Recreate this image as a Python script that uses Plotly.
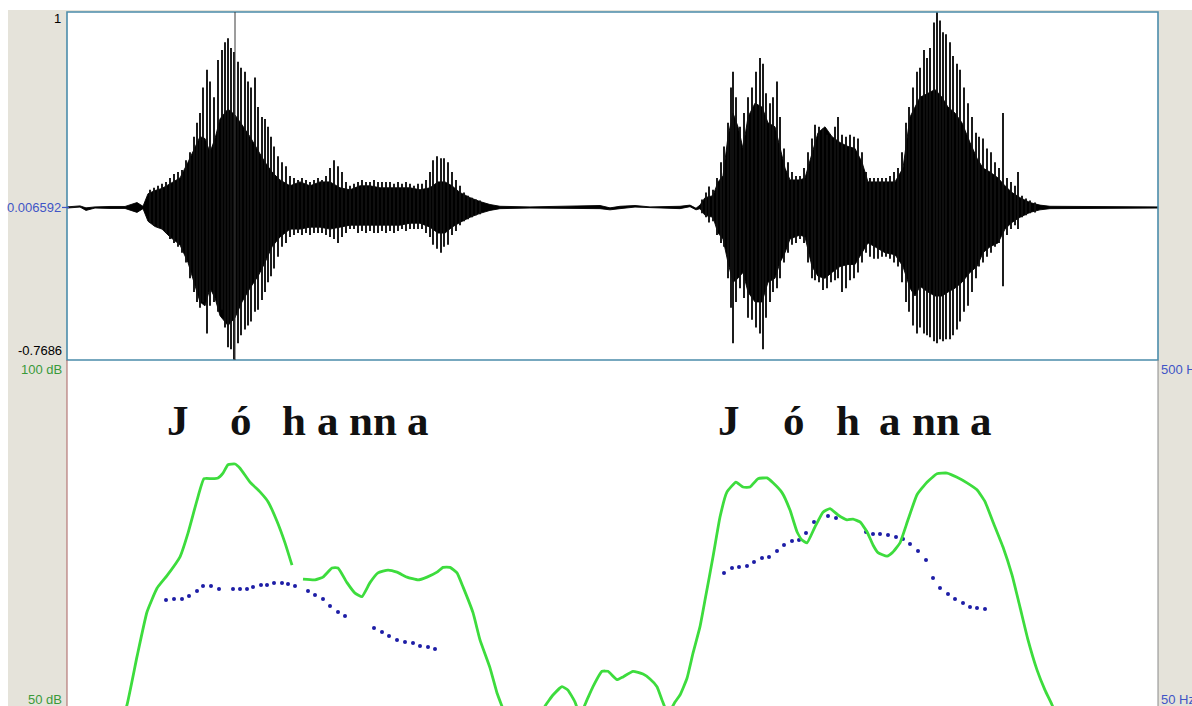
import plotly.graph_objects as go

# ---------------------------------------------------------------
# Data (time in ms)
# ---------------------------------------------------------------
DC_OFFSET = 0.006592
WAVE_MAX = 1.0
WAVE_MIN = -0.7686
DB_TOP, DB_BOT = 100, 50
HZ_TOP, HZ_BOT = 500, 50
DURATION_MS = 2182
CURSOR_MS = 336

# dense body of the waveform: upper / lower envelope (amplitude about the DC offset)
core_t = [0, 26, 38, 56, 86, 116, 140, 152, 162, 176,
          190, 206, 226, 242, 256, 266, 276, 286, 296, 306,
          322, 336, 350, 366, 382, 396, 410, 426, 446, 466,
          486, 506, 526, 546, 566, 586, 606, 626, 646, 666,
          686, 706, 726, 742, 756, 770, 786, 806, 826, 846,
          866, 926, 986, 1066, 1086, 1106, 1136, 1166, 1226, 1246,
          1258, 1266, 1276, 1292, 1302, 1312, 1322, 1332, 1342, 1352,
          1362, 1376, 1390, 1402, 1416, 1426, 1436, 1446, 1456, 1466,
          1476, 1490, 1502, 1516, 1530, 1546, 1562, 1576, 1590, 1602,
          1616, 1636, 1656, 1672, 1686, 1696, 1706, 1722, 1736, 1750,
          1762, 1776, 1790, 1806, 1820, 1832, 1846, 1862, 1876, 1890,
          1906, 1926, 1946, 1966, 2066, 2182]
core_hi = [0.003, 0.008, -0.002, 0.003, 0.005, 0.005, 0.025, 0.006, 0.07, 0.086,
           0.097, 0.12, 0.15, 0.23, 0.31, 0.36, 0.35, 0.28, 0.35, 0.45,
           0.50, 0.47, 0.42, 0.36, 0.29, 0.23, 0.18, 0.14, 0.11, 0.13,
           0.11, 0.13, 0.13, 0.10, 0.09, 0.11, 0.11, 0.10, 0.10, 0.10,
           0.10, 0.09, 0.10, 0.13, 0.13, 0.11, 0.076, 0.05, 0.03, 0.015,
           0.006, 0.003, 0.006, 0.01, -0.002, 0.006, 0.01, 0.003, 0.006, 0.012,
           -0.004, 0.012, 0.05, 0.06, 0.13, 0.16, 0.36, 0.48, 0.41, 0.30,
           0.46, 0.53, 0.51, 0.43, 0.41, 0.30, 0.20, 0.14, 0.14, 0.14,
           0.15, 0.28, 0.38, 0.41, 0.36, 0.33, 0.31, 0.30, 0.23, 0.13,
           0.13, 0.13, 0.13, 0.20, 0.46, 0.51, 0.56, 0.58, 0.60, 0.56,
           0.51, 0.48, 0.43, 0.33, 0.25, 0.20, 0.18, 0.15, 0.11, 0.076,
           0.05, 0.025, 0.012, 0.006, 0.004, 0.003]
core_lo = [0.003, -0.002, 0.015, 0.003, 0.005, 0.005, 0.025, 0.006, 0.07, 0.097,
           0.11, 0.15, 0.19, 0.28, 0.40, 0.48, 0.50, 0.41, 0.46, 0.55,
           0.60, 0.56, 0.48, 0.41, 0.35, 0.28, 0.20, 0.15, 0.11, 0.11,
           0.10, 0.10, 0.11, 0.10, 0.09, 0.09, 0.09, 0.09, 0.09, 0.09,
           0.08, 0.08, 0.10, 0.13, 0.13, 0.10, 0.076, 0.05, 0.03, 0.015,
           0.006, 0.003, 0.003, 0.006, 0.012, 0.006, -0.002, 0.003, 0.006, -0.004,
           0.012, 0.006, 0.04, 0.05, 0.13, 0.16, 0.28, 0.38, 0.36, 0.33,
           0.43, 0.48, 0.48, 0.38, 0.36, 0.28, 0.23, 0.16, 0.15, 0.14,
           0.15, 0.30, 0.35, 0.36, 0.33, 0.30, 0.29, 0.29, 0.23, 0.18,
           0.20, 0.23, 0.24, 0.30, 0.41, 0.45, 0.40, 0.43, 0.45, 0.45,
           0.43, 0.41, 0.38, 0.33, 0.30, 0.23, 0.20, 0.18, 0.11, 0.076,
           0.05, 0.025, 0.012, 0.006, 0.004, 0.003]

# individual glottal pulses: time, positive peak, negative peak
pulse_t = [166, 174, 182, 190, 198, 206, 214, 222, 230, 238,
           246, 254, 260, 266, 272, 280, 286, 294, 302, 310,
           316, 322, 328, 334, 342, 348, 356, 362, 368, 376,
           382, 390, 396, 402, 408, 414, 422, 430, 438, 446,
           454, 462, 470, 478, 486, 494, 502, 510, 518, 526,
           534, 542, 550, 558, 566, 574, 582, 590, 598, 606,
           614, 622, 630, 638, 646, 654, 662, 670, 678, 686,
           694, 702, 710, 718, 726, 732, 740, 748, 754, 762,
           770, 778, 786, 794, 802, 810, 818, 826,
           1270, 1278, 1284, 1292, 1300, 1308, 1314, 1322, 1328, 1332,
           1338, 1346, 1354, 1362, 1370, 1378, 1386, 1392, 1398, 1406,
           1412, 1420, 1426, 1434, 1442, 1450, 1458, 1466, 1474, 1482,
           1490, 1496, 1504, 1512, 1520, 1528, 1536, 1542, 1550, 1558,
           1566, 1574, 1582, 1590, 1598, 1606, 1614, 1622, 1630, 1638,
           1646, 1654, 1662, 1670, 1678, 1684, 1692, 1700, 1706, 1714,
           1720, 1726, 1734, 1740, 1746, 1752, 1758, 1766, 1772, 1780,
           1786, 1794, 1802, 1810, 1818, 1824, 1832, 1840, 1848, 1856,
           1864, 1872, 1880, 1888, 1896, 1902, 1910, 1918, 1926, 1936]
pulse_hi = [0.09, 0.10, 0.11, 0.12, 0.13, 0.15, 0.17, 0.18, 0.19, 0.24,
            0.28, 0.36, 0.43, 0.48, 0.61, 0.70, 0.64, 0.56, 0.75, 0.80,
            0.84, 0.86, 0.81, 0.79, 0.74, 0.71, 0.69, 0.64, 0.61, 0.66,
            0.51, 0.46, 0.45, 0.41, 0.36, 0.31, 0.26, 0.23, 0.21, 0.16,
            0.15, 0.14, 0.15, 0.14, 0.13, 0.14, 0.15, 0.14, 0.16, 0.20,
            0.24, 0.21, 0.18, 0.13, 0.11, 0.12, 0.13, 0.14, 0.13, 0.13,
            0.14, 0.13, 0.13, 0.13, 0.13, 0.12, 0.13, 0.12, 0.13, 0.12,
            0.11, 0.12, 0.12, 0.14, 0.18, 0.24, 0.26, 0.25, 0.25, 0.23,
            0.18, 0.14, 0.11, 0.076, 0.06, 0.05, 0.04, 0.035,
            0.04, 0.076, 0.107, 0.09, 0.15, 0.23, 0.31, 0.43, 0.61, 0.69,
            0.56, 0.41, 0.48, 0.56, 0.61, 0.69, 0.76, 0.73, 0.58, 0.53,
            0.56, 0.64, 0.46, 0.30, 0.23, 0.18, 0.16, 0.16, 0.20, 0.28,
            0.35, 0.42, 0.41, 0.40, 0.37, 0.36, 0.41, 0.46, 0.37, 0.36,
            0.37, 0.36, 0.35, 0.28, 0.18, 0.15, 0.15, 0.15, 0.15, 0.15,
            0.16, 0.18, 0.20, 0.28, 0.43, 0.51, 0.61, 0.69, 0.71, 0.80,
            0.76, 0.81, 0.94, 0.993, 0.95, 0.89, 0.88, 0.84, 0.77, 0.73,
            0.70, 0.61, 0.53, 0.46, 0.38, 0.36, 0.35, 0.30, 0.28, 0.23,
            0.20, 0.48, 0.15, 0.13, 0.11, 0.18, 0.06, 0.046, 0.035, 0.025]
pulse_lo = [0.076, 0.09, 0.10, 0.11, 0.13, 0.16, 0.18, 0.20, 0.23, 0.28,
            0.36, 0.43, 0.48, 0.51, 0.48, 0.64, 0.50, 0.48, 0.53, 0.52,
            0.61, 0.71, 0.72, 0.775, 0.69, 0.65, 0.62, 0.60, 0.58, 0.53,
            0.52, 0.47, 0.43, 0.38, 0.35, 0.31, 0.25, 0.20, 0.18, 0.15,
            0.14, 0.13, 0.14, 0.13, 0.14, 0.13, 0.13, 0.13, 0.14, 0.15,
            0.16, 0.18, 0.15, 0.13, 0.11, 0.11, 0.13, 0.12, 0.13, 0.12,
            0.13, 0.13, 0.12, 0.13, 0.12, 0.13, 0.12, 0.11, 0.12, 0.11,
            0.11, 0.11, 0.11, 0.13, 0.15, 0.19, 0.21, 0.23, 0.20, 0.19,
            0.14, 0.12, 0.09, 0.07, 0.06, 0.05, 0.04, 0.035,
            0.03, 0.05, 0.076, 0.07, 0.14, 0.18, 0.20, 0.36, 0.51, 0.69,
            0.48, 0.41, 0.46, 0.56, 0.57, 0.61, 0.64, 0.72, 0.56, 0.48,
            0.43, 0.41, 0.36, 0.28, 0.23, 0.19, 0.18, 0.16, 0.18, 0.28,
            0.36, 0.37, 0.38, 0.42, 0.41, 0.38, 0.37, 0.36, 0.43, 0.41,
            0.37, 0.36, 0.33, 0.28, 0.23, 0.25, 0.26, 0.26, 0.25, 0.25,
            0.26, 0.28, 0.30, 0.38, 0.48, 0.53, 0.60, 0.64, 0.61, 0.64,
            0.65, 0.66, 0.68, 0.69, 0.67, 0.68, 0.67, 0.67, 0.65, 0.62,
            0.58, 0.53, 0.50, 0.43, 0.36, 0.30, 0.28, 0.25, 0.23, 0.20,
            0.18, 0.40, 0.14, 0.11, 0.09, 0.11, 0.05, 0.04, 0.03, 0.025]

# intensity contour (dB); None marks the break in the contour
int_t = [102, 120, 140, 160, 180, 200, 226, 242, 260, 274,
         290, 302, 312, 322, 336, 346, 366, 386, 402, 420,
         436, 450, 461, 472, 496, 512, 530, 542, 560, 576,
         590, 606, 622, 642, 660, 680, 702, 720, 740, 752,
         766, 780, 792, 812, 826, 846, 860, 872, 882, 946,
         956, 972, 990, 1002, 1016, 1026, 1040, 1052, 1070, 1082,
         1100, 1112, 1132, 1152, 1166, 1180, 1190, 1202, 1216, 1226,
         1240, 1252, 1266, 1276, 1292, 1306, 1320, 1338, 1352, 1366,
         1382, 1400, 1412, 1430, 1446, 1460, 1470, 1480, 1496, 1512,
         1526, 1542, 1560, 1572, 1586, 1600, 1612, 1622, 1640, 1652,
         1666, 1682, 1700, 1720, 1740, 1760, 1780, 1800, 1820, 1836,
         1852, 1872, 1890, 1906, 1922, 1940, 1956, 1970, 1986]
int_db = [47.0, 50.6, 57.5, 63.9, 67.3, 69.1, 71.8, 75.2, 79.9, 83.0,
          83.0, 83.1, 83.8, 85.0, 85.1, 84.5, 82.5, 81.1, 79.7, 76.9,
          73.8, 70.6, None, 68.6, 68.5, 68.9, 70.2, 70.2, 68.1, 66.6,
          66.1, 68.1, 69.5, 69.9, 69.6, 68.9, 68.5, 68.9, 69.6, 70.3,
          70.3, 69.5, 67.5, 63.8, 59.9, 55.9, 52.3, 50.0, 47.7, 47.7,
          50.4, 52.0, 53.2, 52.7, 51.0, 49.1, 51.3, 53.2, 55.4, 55.4,
          54.2, 54.6, 55.4, 55.0, 54.3, 53.2, 51.3, 49.3, 51.0, 52.0,
          54.4, 58.0, 61.8, 65.6, 71.8, 77.5, 81.1, 82.5, 81.8, 81.8,
          83.0, 83.1, 82.4, 81.0, 78.5, 75.4, 74.2, 73.8, 76.1, 78.2,
          78.7, 77.8, 77.1, 77.2, 76.8, 75.4, 73.5, 72.4, 71.9, 72.5,
          73.8, 77.1, 80.7, 82.5, 83.7, 83.8, 83.2, 82.4, 81.4, 79.7,
          76.8, 73.2, 69.2, 64.6, 59.9, 55.6, 52.7, 50.6, 47.7]

# pitch track (Hz)
pitch_t = [198, 214, 230, 244, 260, 272, 288, 304, 332, 346,
           360, 372, 388, 400, 414, 430, 442, 456, 482, 496,
           512, 526, 542, 556, 614, 630, 644, 660, 676, 692,
           706, 722, 736,
           1314, 1330, 1344, 1360, 1374, 1390, 1404, 1420, 1434, 1450,
           1464, 1478, 1494, 1522, 1538, 1598, 1612, 1626, 1642, 1658,
           1672, 1686, 1702, 1718, 1732, 1746, 1762, 1776, 1792, 1806,
           1820, 1836]
pitch_hz = [190.5, 191.8, 191.8, 195.7, 202.1, 208.6, 208.6, 204.7, 204.7, 204.7,
            204.7, 207.3, 209.9, 209.9, 212.5, 212.5, 211.2, 208.6, 202.1, 197.0,
            191.8, 182.8, 175.1, 169.9, 154.4, 149.3, 144.1, 138.9, 136.4, 135.1,
            131.3, 130.0, 127.4,
            225.4, 231.8, 233.1, 234.4, 239.5, 244.7, 246.0, 253.7, 261.5, 266.6,
            267.9, 276.9, 291.1, 298.9, 296.3, 278.2, 275.6, 275.6, 274.4, 271.8,
            269.2, 262.8, 253.7, 242.1, 218.9, 206.0, 198.3, 191.8, 186.7, 181.5,
            180.2, 178.9]

# segment labels of the two tokens of "Jóhanna"
seg_text = ["J", "ó", "h", "a", "nn", "a",
            "J", "ó", "h", "a", "nn", "a"]
seg_t = [222, 348, 454, 522, 612, 702,
         1324, 1454, 1562, 1646, 1738, 1828]

assert len(core_t) == len(core_hi) == len(core_lo)
assert len(pulse_t) == len(pulse_hi) == len(pulse_lo)
assert len(int_t) == len(int_db)
assert len(pitch_t) == len(pitch_hz)

# ---------------------------------------------------------------
# Layout geometry
# ---------------------------------------------------------------
W, H = 1192, 706
ML, MR, MT, MB = 67, 34, 12, 0
PW, PH = W - ML - MR, H - MT - MB


def fx(px):
    return (px - ML) / PW


def fy(py):
    return (H - MB - py) / PH


SPLIT = fy(360)                       # border between the two panels
PANEL_PX = 349                        # full height of the lower panel
VISIBLE_PX = H - 360                  # part of it inside the window
db_range = [DB_TOP - (DB_TOP - DB_BOT) * VISIBLE_PX / PANEL_PX, DB_TOP]
hz_range = [HZ_TOP - (HZ_TOP - HZ_BOT) * VISIBLE_PX / PANEL_PX, HZ_TOP]

GREY = "#e5e3da"
WAVE_BLUE = "#3f55c6"
DB_GREEN = "#3a9a3a"
FRAME = "#4b8cab"

fig = go.Figure()

# waveform body
poly_x = core_t + core_t[::-1]
poly_y = [DC_OFFSET + v for v in core_hi] + [DC_OFFSET - v for v in core_lo[::-1]]
fig.add_trace(go.Scatter(x=poly_x, y=poly_y, mode="lines", fill="toself",
                         fillcolor="#000000", line=dict(color="#000000", width=0.9),
                         xaxis="x", yaxis="y", hoverinfo="skip"))

# waveform pulses
px_, py_ = [], []
for t, hi, lo in zip(pulse_t, pulse_hi, pulse_lo):
    px_ += [t, t, None]
    py_ += [DC_OFFSET + hi, DC_OFFSET - lo, None]
fig.add_trace(go.Scatter(x=px_, y=py_, mode="lines",
                         line=dict(color="#101010", width=1.9),
                         xaxis="x", yaxis="y", hoverinfo="skip"))

# pitch (base axis of the lower panel) and intensity (overlay, drawn above)
fig.add_trace(go.Scatter(x=pitch_t, y=pitch_hz, mode="markers",
                         marker=dict(color="#1d1da6", size=4, symbol="circle"),
                         xaxis="x", yaxis="y2", hoverinfo="skip"))
fig.add_trace(go.Scatter(x=int_t, y=int_db, mode="lines", connectgaps=False,
                         line=dict(color="#3ddc3d", width=2.8, shape="spline", smoothing=0.4),
                         xaxis="x", yaxis="y3", hoverinfo="skip"))

shapes = [
    # white strips around the grey window margin
    dict(type="rect", xref="paper", yref="paper", x0=fx(0), x1=fx(W), y0=fy(10), y1=fy(0),
         fillcolor="white", line_width=0, layer="below"),
    dict(type="rect", xref="paper", yref="paper", x0=fx(0), x1=fx(8), y0=fy(H), y1=fy(0),
         fillcolor="white", line_width=0, layer="below"),
    # waveform frame
    dict(type="rect", xref="paper", yref="paper", x0=0, x1=1, y0=SPLIT, y1=1,
         line=dict(color=FRAME, width=1.6), fillcolor="rgba(0,0,0,0)", layer="above"),
    # lower panel borders
    dict(type="line", xref="paper", yref="paper", x0=0, x1=0, y0=0, y1=SPLIT,
         line=dict(color="#a86060", width=1), layer="above"),
    dict(type="line", xref="paper", yref="paper", x0=1, x1=1, y0=0, y1=SPLIT,
         line=dict(color="#8a8a8a", width=1), layer="above"),
    # cursor
    dict(type="line", xref="x", yref="y", x0=CURSOR_MS, x1=CURSOR_MS, y0=WAVE_MIN, y1=WAVE_MAX,
         line=dict(color="#3a3a3a", width=1), layer="above"),
    # zero marker at the left edge
    dict(type="line", xref="paper", yref="y", x0=fx(62), x1=fx(69), y0=DC_OFFSET, y1=DC_OFFSET,
         line=dict(color=WAVE_BLUE, width=1.2), layer="above"),
]

lab_font = dict(family="Liberation Sans, Arial, sans-serif", size=13)
annotations = [
    dict(text=f"{WAVE_MAX:g}", x=fx(63), y=fy(19), color="#000000", anchor="right"),
    dict(text=f"{DC_OFFSET:g}", x=fx(63), y=fy(208), color=WAVE_BLUE, anchor="right"),
    dict(text=f"{WAVE_MIN:g}", x=fx(64), y=fy(350), color="#000000", anchor="right"),
    dict(text=f"{DB_TOP} dB", x=fx(64), y=fy(369), color=DB_GREEN, anchor="right"),
    dict(text=f"{DB_BOT} dB", x=fx(64), y=fy(699), color=DB_GREEN, anchor="right"),
    dict(text=f"{HZ_TOP} Hz", x=fx(1159), y=fy(369), color=WAVE_BLUE, anchor="left"),
    dict(text=f"{HZ_BOT} Hz", x=fx(1159), y=fy(699), color=WAVE_BLUE, anchor="left"),
]
ann = []
for a in annotations:
    ann.append(dict(text=a["text"], x=a["x"], y=a["y"], xref="paper", yref="paper",
                    xanchor=a["anchor"], yanchor="middle", showarrow=False,
                    font=dict(color=a["color"], **lab_font)))

for s, t in zip(seg_text, seg_t):
    ann.append(dict(text=s, x=t, y=fy(420), xref="x", yref="paper",
                    xanchor="center", yanchor="middle", showarrow=False,
                    font=dict(family="Liberation Serif, Times New Roman, serif",
                              size=43, color="#111111", weight="bold")))

fig.update_layout(
    width=W, height=H,
    margin=dict(l=ML, r=MR, t=MT, b=MB, pad=0),
    paper_bgcolor=GREY, plot_bgcolor="white",
    showlegend=False,
    xaxis=dict(range=[0, DURATION_MS], visible=False, domain=[0, 1], anchor="y"),
    yaxis=dict(range=[WAVE_MIN, WAVE_MAX], visible=False, domain=[SPLIT, 1]),
    yaxis2=dict(range=hz_range, visible=False, domain=[0, SPLIT], anchor="x"),
    yaxis3=dict(range=db_range, visible=False, overlaying="y2", anchor="x"),
    shapes=shapes,
    annotations=ann,
)

fig.write_html("out.html")
